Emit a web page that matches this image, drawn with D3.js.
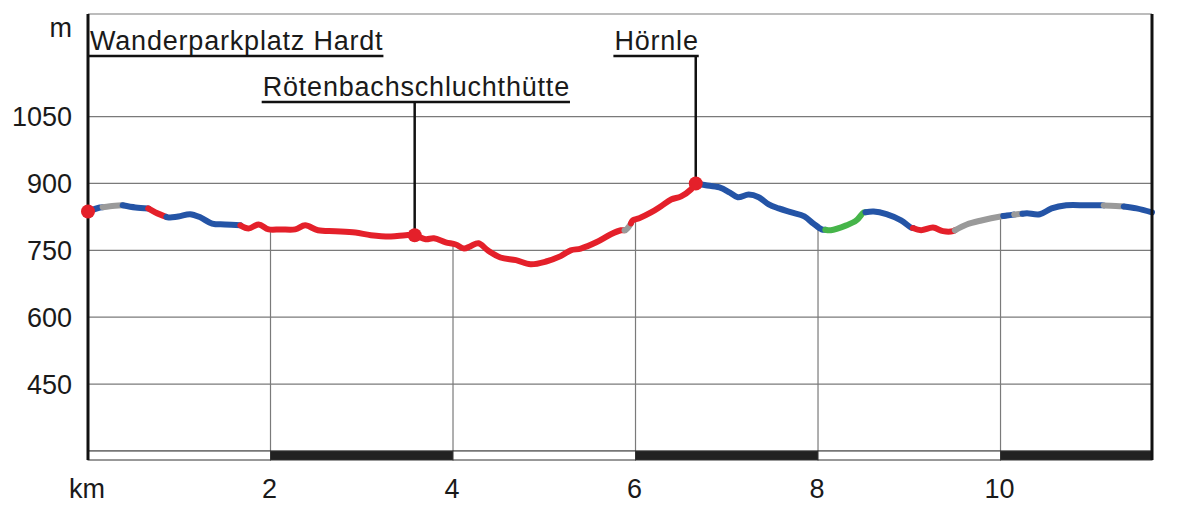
<!DOCTYPE html>
<html><head><meta charset="utf-8">
<script src="https://cdn.jsdelivr.net/npm/d3@7"></script>
<style>
html,body{margin:0;padding:0;background:#fff;}
svg{display:block;}
text{font-family:"Liberation Sans",Arial,sans-serif;fill:#1a1a1a;}
</style></head>
<body>
<svg id="chart" width="1180" height="512"></svg>
<script>
// ---- data ----
const distKm = [0,0.13,0.24,0.38,0.52,0.66,0.74,0.87,0.99,1.12,1.23,1.36,1.50,1.67,1.76,1.87,1.98,2.11,2.27,2.38,2.52,2.71,2.93,3.10,3.32,3.48,3.58,3.70,3.79,3.92,4.03,4.12,4.19,4.28,4.38,4.52,4.69,4.85,5.02,5.18,5.29,5.40,5.57,5.73,5.84,5.89,5.93,5.97,6.04,6.17,6.28,6.39,6.50,6.61,6.66,6.77,6.92,7.03,7.12,7.24,7.35,7.46,7.57,7.71,7.85,7.95,8.04,8.14,8.31,8.42,8.50,8.61,8.75,8.91,9.02,9.13,9.26,9.37,9.48,9.63,9.79,10.0,10.07,10.18,10.29,10.43,10.56,10.72,10.94,11.11,11.33,11.49,11.66];
const elevM  = [837,846,849,851,846,844,835,824,826,831,824,810,808,806,799,808,797,797,797,806,795,793,790,784,781,784,784,775,777,768,763,754,759,766,750,734,728,719,725,737,750,754,768,786,795,795,804,817,822,835,849,864,871,887,900,896,891,880,869,875,869,853,844,835,826,810,797,795,806,817,835,837,831,817,801,795,801,793,793,808,817,826,828,831,833,831,844,851,851,851,849,844,835];
const surfaceFrom = [0,0.16,0.38,0.66,0.86,1.67,5.88,5.95,6.72,8.08,8.52,9.04,9.50,10.03,10.15,10.24,11.13,11.35];
const surfaceTo   = [0.16,0.38,0.66,0.86,1.67,5.88,5.95,6.72,8.08,8.52,9.04,9.50,10.03,10.15,10.24,11.13,11.35,11.66];
const surfaceType = ["asphalt","gravel","asphalt","path","asphalt","path","gravel","path","asphalt","trail","asphalt","path","gravel","asphalt","gravel","asphalt","gravel","asphalt"];
const surfaceColor = {asphalt:"#2454a6", gravel:"#9a9a9a", path:"#e4202a", trail:"#46b54a"};
const yTicks = [450,600,750,900,1050];
const xTicks = [2,4,6,8,10];
const placeNames = ["Wanderparkplatz Hardt","Rötenbachschluchthütte","Hörnle"];
const placeKm = [0,3.58,6.66];
const placeElev = [837,784,900];

// ---- layout ----
const svg = d3.select("#chart");
const padL = 88, padR = 1152, padT = 14, base = 451, barH = 9;
const x = d3.scaleLinear().domain([0, 11.66]).range([padL, padR]);
const y = d3.scaleLinear().domain([300, 1280]).range([base, padT]);
const FS = 27;

// horizontal grid
svg.append("g").selectAll("line").data(yTicks.concat([300,1280])).join("line")
  .attr("x1", padL).attr("x2", padR)
  .attr("y1", d => y(d)).attr("y2", d => y(d))
  .attr("stroke", "#7a7a7a").attr("stroke-width", 1.2);

const interp = d3.scaleLinear().domain(distKm).range(elevM);

// vertical grid from profile to base
svg.append("g").selectAll("line").data(xTicks).join("line")
  .attr("x1", d => x(d)).attr("x2", d => x(d))
  .attr("y1", d => y(interp(d))).attr("y2", base)
  .attr("stroke", "#7a7a7a").attr("stroke-width", 1.2);

// km scale bar
const barEdges = [0,2,4,6,8,10,11.66];
svg.append("g").selectAll("rect").data(d3.range(barEdges.length-1)).join("rect")
  .attr("x", i => x(barEdges[i])).attr("width", i => x(barEdges[i+1]) - x(barEdges[i]))
  .attr("y", base).attr("height", barH)
  .attr("fill", i => i % 2 ? "#222" : "#fff")
  .attr("stroke", "#333").attr("stroke-width", 1);

// profile segments
const lineGen = d3.line().x(d => x(d[0])).y(d => y(d[1])).curve(d3.curveCatmullRom.alpha(0.5));
const segG = svg.append("g").attr("fill", "none").attr("stroke-width", 6).attr("stroke-linecap", "round").attr("stroke-linejoin", "round");
surfaceType.forEach((t, i) => {
  const a = surfaceFrom[i], b = surfaceTo[i];
  const pts = [[a, interp(a)]];
  distKm.forEach((k, j) => { if (k > a && k < b) pts.push([k, elevM[j]]); });
  pts.push([b, interp(b)]);
  segG.append("path").attr("d", lineGen(pts)).attr("stroke", surfaceColor[t]);
});

// axes frame
svg.append("line").attr("x1", padL).attr("x2", padL).attr("y1", padT).attr("y2", base + barH)
  .attr("stroke", "#111").attr("stroke-width", 3);
svg.append("line").attr("x1", padR).attr("x2", padR).attr("y1", padT).attr("y2", base + barH)
  .attr("stroke", "#111").attr("stroke-width", 3);

// y labels
svg.append("g").selectAll("text").data(yTicks).join("text")
  .attr("x", 72).attr("y", d => y(d)).attr("dy", "0.36em")
  .attr("text-anchor", "end").attr("font-size", FS).text(d => d);
svg.append("text").attr("x", 72).attr("y", 37).attr("text-anchor", "end").attr("font-size", FS).text("m");

// x labels
svg.append("g").selectAll("text").data(xTicks).join("text")
  .attr("x", d => x(d) - 1).attr("y", 498).attr("text-anchor", "middle").attr("font-size", FS).text(d => d);
svg.append("text").attr("x", x(0) - 1).attr("y", 498).attr("text-anchor", "middle").attr("font-size", FS).text("km");

// place labels
const labelRowY = [50, 96, 50];
const labelAlign = ["start", "mid", "end"];
const labelShift = [2, -152, 0];
placeNames.forEach((name, i) => {
  const px = x(placeKm[i]);
  const t = svg.append("text").attr("font-size", FS).attr("letter-spacing", 0.8).attr("y", labelRowY[i]).text(name);
  const w = t.node().getComputedTextLength();
  let x0;
  if (labelAlign[i] === "end") x0 = px - w + 3;
  else x0 = px + labelShift[i];
  t.attr("x", x0);
  const uy = labelRowY[i] + 6;
  const ux1 = Math.min(x0 - 1, px), ux2 = Math.max(x0 + w, px + 1);
  svg.append("line").attr("x1", ux1).attr("x2", ux2).attr("y1", uy).attr("y2", uy)
    .attr("stroke", "#111").attr("stroke-width", 2.5);
  if (i > 0) {
    svg.append("line").attr("x1", px).attr("x2", px).attr("y1", uy).attr("y2", y(placeElev[i]))
      .attr("stroke", "#111").attr("stroke-width", 2.5);
  }
});

// markers
svg.append("g").selectAll("circle").data(placeKm).join("circle")
  .attr("cx", d => x(d)).attr("cy", (d, i) => y(placeElev[i])).attr("r", 7)
  .attr("fill", "#e4202a");
</script>
</body></html>
